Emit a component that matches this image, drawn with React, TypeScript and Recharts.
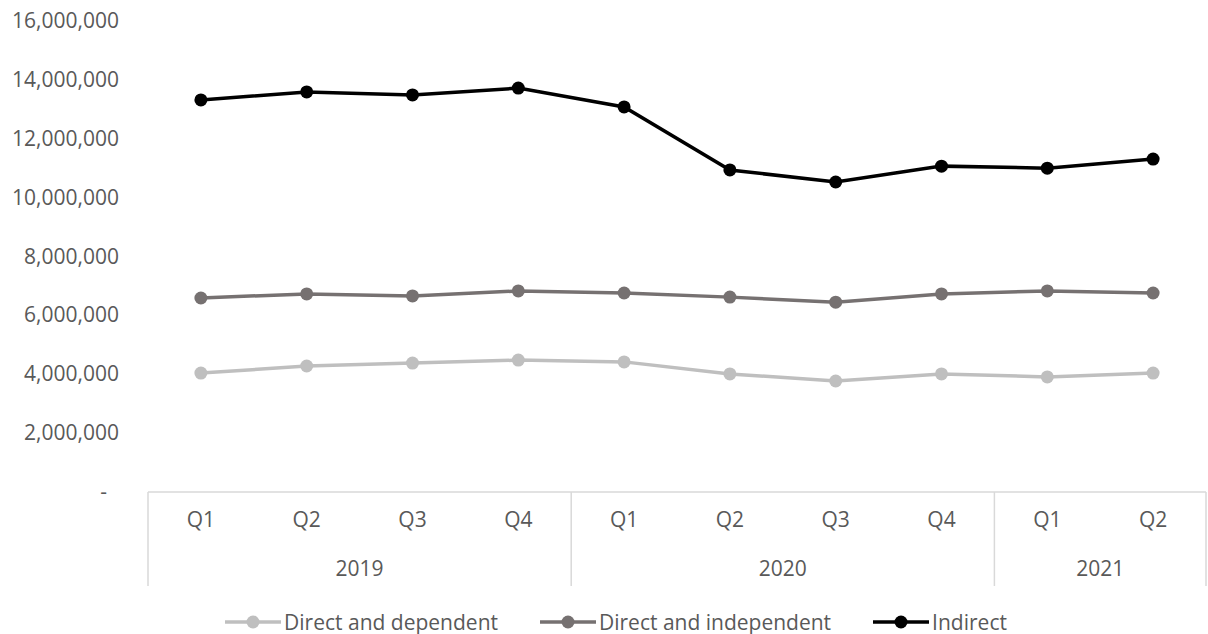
import React from "react";
import { LineChart, Line, XAxis, YAxis, Legend } from "recharts";

// Quarterly values
const quarters = ["Q1", "Q2", "Q3", "Q4", "Q1", "Q2", "Q3", "Q4", "Q1", "Q2"];
const years = ["2019", "2019", "2019", "2019", "2020", "2020", "2020", "2020", "2021", "2021"];
const directDependent = [4040000, 4280000, 4380000, 4480000, 4420000, 4010000, 3770000, 4010000, 3910000, 4040000];
const directIndependent = [6590000, 6730000, 6660000, 6830000, 6760000, 6620000, 6450000, 6730000, 6830000, 6760000];
const indirect = [13320000, 13590000, 13490000, 13720000, 13080000, 10940000, 10530000, 11070000, 11000000, 11310000];
const yTicks = [0, 2000000, 4000000, 6000000, 8000000, 10000000, 12000000, 14000000, 16000000];

const seriesList = [
  { key: "dependent", name: "Direct and dependent", color: "#bfbfbf" },
  { key: "independent", name: "Direct and independent", color: "#767171" },
  { key: "indirect", name: "Indirect", color: "#000000" },
];

const data = quarters.map((q, i) => ({
  id: i,
  quarter: q,
  year: years[i],
  dependent: directDependent[i],
  independent: directIndependent[i],
  indirect: indirect[i],
}));

const W = 1208;
const H = 634;
const Y_AXIS_W = 148;
const MARGIN_RIGHT = 2;
const BAND = (W - Y_AXIS_W - MARGIN_RIGHT) / quarters.length;
const X_AXIS_H = 94;
const FONT = "'Open Sans', 'Noto Sans', sans-serif";
const TEXT = "#595959";
const BOX = "#d9d9d9";

const YTick = (props: any) => {
  const { x, y, payload } = props;
  const v = payload.value as number;
  const label = v === 0 ? "-" : v.toLocaleString("en-US");
  return (
    <text
      x={v === 0 ? x - 12 : x}
      y={y}
      dy={7}
      textAnchor="end"
      fill={TEXT}
      fontSize={21}
      fontFamily={FONT}
    >
      {label}
    </text>
  );
};

const XTick = (props: any) => {
  const { x, y, index } = props;
  const yr = years[index];
  const isStart = index === 0 || years[index - 1] !== yr;
  const count = years.filter((v) => v === yr).length;
  const isLast = index === years.length - 1;
  return (
    <g>
      <text x={x} y={y + 28} dy={7} textAnchor="middle" fill={TEXT} fontSize={21} fontFamily={FONT}>
        {quarters[index]}
      </text>
      {isStart && (
        <>
          <line x1={x - BAND / 2} x2={x - BAND / 2} y1={y} y2={y + X_AXIS_H} stroke={BOX} strokeWidth={1.5} />
          <text
            x={x + ((count - 1) * BAND) / 2}
            y={y + 77}
            dy={7}
            textAnchor="middle"
            fill={TEXT}
            fontSize={21}
            fontFamily={FONT}
          >
            {yr}
          </text>
        </>
      )}
      {isLast && (
        <line x1={x + BAND / 2} x2={x + BAND / 2} y1={y} y2={y + X_AXIS_H} stroke={BOX} strokeWidth={1.5} />
      )}
    </g>
  );
};

const LegendContent = () => (
  <div
    style={{
      display: "flex",
      justifyContent: "center",
      alignItems: "center",
      gap: 42,
      paddingTop: 22,
      paddingLeft: 26,
      fontFamily: FONT,
      fontSize: 21,
      color: TEXT,
    }}
  >
    {seriesList.map((s) => (
      <div key={s.key} style={{ display: "flex", alignItems: "center" }}>
        <svg width={56} height={24} style={{ marginRight: 3 }}>
          <line x1={0} x2={56} y1={12} y2={12} stroke={s.color} strokeWidth={3.5} />
          <circle cx={28} cy={12} r={6.5} fill={s.color} />
        </svg>
        <span>{s.name}</span>
      </div>
    ))}
  </div>
);

export default function App() {
  return (
    <div style={{ position: "absolute", left: 0, top: 0, width: W, height: H, background: "#fff" }}>
      <LineChart width={W} height={H} data={data} margin={{ top: 21, right: MARGIN_RIGHT, left: 0, bottom: 0 }}>
        <XAxis
          dataKey="id"
          type="category"
          interval={0}
          height={X_AXIS_H}
          padding={{ left: BAND / 2, right: BAND / 2 }}
          axisLine={{ stroke: BOX, strokeWidth: 1.5 }}
          tickLine={false}
          tickSize={0}
          tickMargin={0}
          tick={<XTick />}
        />
        <YAxis
          width={Y_AXIS_W}
          domain={[0, 16000000]}
          ticks={yTicks}
          interval={0}
          axisLine={false}
          tickLine={false}
          tickSize={0}
          tickMargin={29}
          tick={<YTick />}
        />
        <Legend verticalAlign="bottom" height={48} content={<LegendContent />} />
        {seriesList.map((s) => (
          <Line
            key={s.key}
            type="linear"
            dataKey={s.key}
            name={s.name}
            stroke={s.color}
            strokeWidth={3.5}
            dot={{ r: 6.5, fill: s.color, stroke: s.color, strokeWidth: 0 }}
            activeDot={false}
            isAnimationActive={false}
          />
        ))}
      </LineChart>
    </div>
  );
}
